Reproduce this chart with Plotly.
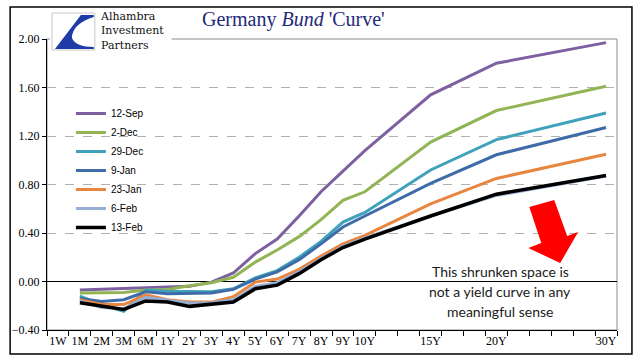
import plotly.graph_objects as go

categories = ["1W", "1M", "2M", "3M", "6M", "1Y", "2Y", "3Y", "4Y", "5Y", "6Y", "7Y", "8Y", "9Y", "10Y",
              " ", "  ", "15Y", "   ", "    ", "20Y", "     ", "      ", "       ", "        ", "30Y"]
maturities = ["1M", "2M", "3M", "6M", "1Y", "2Y", "3Y", "4Y", "5Y", "6Y", "7Y", "8Y", "9Y", "10Y", "15Y", "20Y", "30Y"]

sep12 = [-0.07, -0.065, -0.06, -0.05, -0.045, -0.04, -0.005, 0.07, 0.23, 0.35, 0.54, 0.74, 0.91, 1.08, 1.54, 1.80, 1.97]
dec02 = [-0.095, -0.095, -0.09, -0.07, -0.065, -0.035, -0.01, 0.035, 0.16, 0.26, 0.37, 0.51, 0.67, 0.74, 1.15, 1.41, 1.61]
dec29 = [-0.12, -0.19, -0.245, -0.07, -0.08, -0.085, -0.085, -0.06, 0.03, 0.09, 0.20, 0.33, 0.49, 0.57, 0.92, 1.17, 1.39]
jan09 = [-0.14, -0.165, -0.15, -0.085, -0.10, -0.10, -0.095, -0.065, 0.02, 0.08, 0.18, 0.31, 0.45, 0.54, 0.81, 1.045, 1.27]
jan23 = [-0.15, -0.19, -0.19, -0.11, -0.15, -0.17, -0.17, -0.125, -0.005, 0.02, 0.10, 0.21, 0.31, 0.38, 0.64, 0.85, 1.05]
feb06 = [-0.16, -0.215, -0.225, -0.13, -0.155, -0.18, -0.175, -0.15, -0.04, -0.01, 0.08, 0.19, 0.29, 0.36, 0.54, 0.71, 0.87]
feb13 = [-0.175, -0.20, -0.23, -0.16, -0.17, -0.205, -0.185, -0.17, -0.06, -0.03, 0.065, 0.18, 0.28, 0.35, 0.54, 0.72, 0.875]

series_names = ["12-Sep", "2-Dec", "29-Dec", "9-Jan", "23-Jan", "6-Feb", "13-Feb"]
series_values = [sep12, dec02, dec29, jan09, jan23, feb06, feb13]
series_colors = ["#7D60A0", "#93B455", "#3FA2BA", "#3E6CA8", "#E8853F", "#95B0D4", "#000000"]
series_widths = [3, 3, 3, 3, 3, 3, 3.5]

y_ticks = [-0.4, 0.0, 0.4, 0.8, 1.2, 1.6, 2.0]

W, H = 641, 361
L, R, T, B = 45, 617, 39, 330


def px(x):
    return (x - L) / (R - L)


def py(y):
    return (B - y) / (B - T)


fig = go.Figure()
for name, vals, col, w in zip(series_names, series_values, series_colors, series_widths):
    fig.add_trace(go.Scatter(x=maturities, y=vals, name=name, mode="lines",
                             line=dict(color=col, width=w)))

shapes = []
shapes.append(dict(type="rect", xref="paper", yref="paper", x0=px(8), x1=px(632), y0=py(354), y1=py(7),
                   line=dict(color="#000000", width=1.5), layer="below"))
shapes.append(dict(type="rect", xref="paper", yref="paper", x0=0, x1=1, y0=0, y1=1,
                   line=dict(color="#8C8C8C", width=1), layer="below"))
shapes.append(dict(type="rect", xref="paper", yref="paper", x0=px(48), x1=px(170), y0=py(53), y1=py(10),
                   line=dict(width=0), fillcolor="white", layer="above"))
shapes.append(dict(type="rect", xref="paper", yref="paper", x0=px(50), x1=px(93), y0=py(50), y1=py(13),
                   line=dict(color="#C8C8C8", width=1), fillcolor="white", layer="above"))
path = "M {} {} L {} {} L {} {} L {} {} Q {} {} {} {} Q {} {} {} {} L {} {} Z".format(
    px(53), py(49), px(79), py(15), px(92), py(15), px(92), py(17),
    px(70), py(24), px(70), py(38), px(74), py(47), px(92), py(47), px(92), py(49))
shapes.append(dict(type="path", xref="paper", yref="paper", path=path,
                   fillcolor="#1E3CA8", line=dict(width=0), layer="above"))
arrow = [(529, 207), (554, 200), (567, 236), (578, 232), (560, 263), (528, 248), (541, 243)]
apath = "M " + " L ".join("{} {}".format(px(a), py(b)) for a, b in arrow) + " Z"
shapes.append(dict(type="path", xref="paper", yref="paper", path=apath,
                   fillcolor="#FF0000", line=dict(width=0), layer="above"))

annotations = [
    dict(text="Germany <i>Bund</i> 'Curve'", xref="paper", yref="paper", x=px(292), y=py(19),
         showarrow=False, font=dict(family="Liberation Serif", size=20, color="#1F2A78"),
         xanchor="center", yanchor="middle"),
    dict(text="Alhambra<br>Investment<br>Partners", xref="paper", yref="paper", x=px(96), y=py(31),
         showarrow=False, font=dict(family="DejaVu Serif", size=11, color="#111111"),
         xanchor="left", yanchor="middle", align="left"),
]
for i, t in enumerate(["This shrunken space is", "not a yield curve in any", "meaningful sense"]):
    annotations.append(dict(text=t, xref="paper", yref="paper", x=px(500), y=py(271 + 20 * i),
                            showarrow=False, font=dict(family="Lato", size=14, color="#1A1A1A"),
                            xanchor="center", yanchor="middle"))

fig.update_layout(
    width=W, height=H,
    margin=dict(l=L, r=W - R, t=T, b=H - B),
    paper_bgcolor="white", plot_bgcolor="white",
    showlegend=True,
    legend=dict(x=px(69), y=py(99), xanchor="left", yanchor="top",
                font=dict(family="Liberation Sans", size=10, color="#000000"),
                bgcolor="rgba(0,0,0,0)", tracegroupgap=0, itemwidth=30),
    shapes=shapes,
    annotations=annotations,
    xaxis=dict(type="category", categoryorder="array", categoryarray=categories,
               range=[-0.5, len(categories) - 0.5],
               tickmode="array", tickvals=categories, ticktext=categories,
               ticks="outside", ticklen=5, tickcolor="#000000", tickson="boundaries",
               tickangle=0,
               showline=True, linecolor="#000000", linewidth=1,
               showgrid=False, zeroline=False,
               tickfont=dict(family="Liberation Serif", size=12, color="#000000")),
    yaxis=dict(range=[-0.4, 2.0], tickvals=y_ticks, tickformat=".2f",
               ticks="outside", ticklen=4, tickcolor="#000000",
               showline=True, linecolor="#000000", linewidth=1,
               showgrid=True, gridcolor="#B0B0B0", griddash="dash", gridwidth=1,
               zeroline=True, zerolinecolor="#000000", zerolinewidth=1,
               tickfont=dict(family="Liberation Serif", size=12, color="#000000")),
)

fig.write_html("out.html", config={"displayModeBar": False},
               post_script="document.body.style.margin='0px';")
